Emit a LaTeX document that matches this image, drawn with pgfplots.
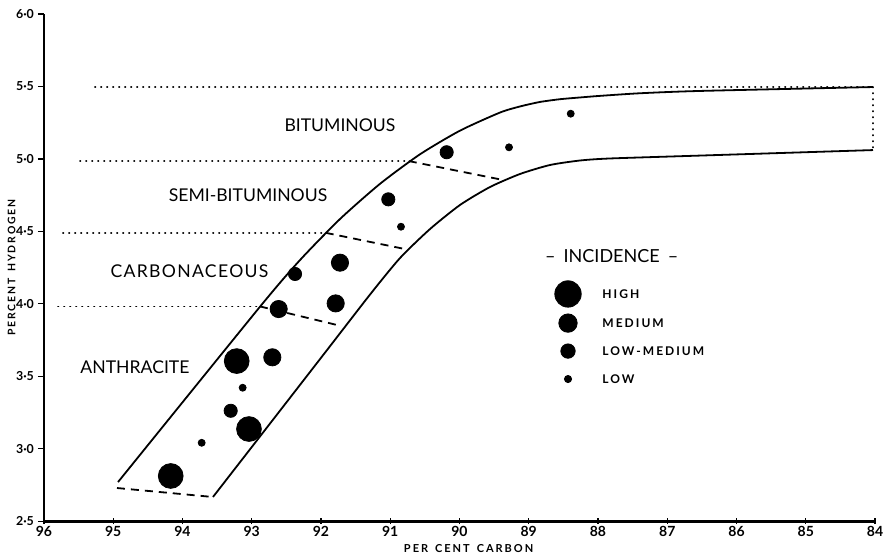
\documentclass[border=0pt]{standalone}
\usepackage{fontspec}
\setmainfont{Lato}
\usepackage{pgfplots}
\pgfplotsset{compat=1.18}
\begin{document}
\begin{tikzpicture}
\begin{axis}[
  scale only axis, width=415.5pt, height=253.6pt,
  x dir=reverse, xmin=84, xmax=96, ymin=2.5, ymax=6.0,
  axis x line*=bottom, axis y line*=left,
  axis line style={line width=1.3pt,-},
  xtick={84,85,...,96}, ytick={2.5,3.0,3.5,4.0,4.5,5.0,5.5,6.0},
  xticklabels={84,85,86,87,88,89,90,91,92,93,94,95,96},
  yticklabels={2·5,3·0,3·5,4·0,4·5,5·0,5·5,6·0},
  /pgf/number format/assume math mode=true,
  tick style={black, line width=0.6pt},
  major tick length=3pt,
  xtick align=center, ytick align=outside,
  xticklabel style={font=\fontsize{7}{8}\selectfont\bfseries, yshift=2.5pt},
  yticklabel style={font=\fontsize{6.2}{7}\selectfont\bfseries, xshift=1.5pt},
  xlabel={PER\hspace{3.5pt}CENT\hspace{3.5pt}CARBON},
  xlabel style={font=\fontsize{5.5}{6}\selectfont\bfseries\addfontfeatures{LetterSpace=18}, at={(axis description cs:0.511,0)}, anchor=center, yshift=-13.6pt},
  clip=false,
]
% band boundaries
\addplot[black, line width=0.9pt, smooth, tension=0.4] coordinates {
 (94.931,2.770) (92.881,3.980) (92.303,4.302) (91.726,4.585) (91.148,4.828)
 (90.570,5.032) (89.993,5.195) (89.415,5.320) (89.126,5.362) (88.838,5.393)
 (88.549,5.412) (88.260,5.424) (87.971,5.435) (87.394,5.453) (86.527,5.469) (84.029,5.496)};
\addplot[black, line width=0.9pt, smooth, tension=0.4] coordinates {
 (93.560,2.667) (92.736,3.174) (91.913,3.681) (91.292,4.064) (90.859,4.316)
 (90.426,4.516) (89.993,4.682) (89.560,4.806) (89.126,4.896) (88.693,4.958)
 (88.260,4.989) (87.827,5.003) (86.527,5.023) (84.029,5.061)};
% dotted class lines
\addplot[black, line width=0.9pt, line cap=round, dash pattern=on 0.2pt off 2.8pt] coordinates {(95.264,5.496) (84.029,5.496)};
\addplot[black, line width=0.9pt, line cap=round, dash pattern=on 0.2pt off 2.8pt] coordinates {(84.029,5.496) (84.029,5.061)};
\addplot[black, line width=0.9pt, line cap=round, dash pattern=on 0.2pt off 2.8pt] coordinates {(95.480,4.985) (90.732,4.985)};
\addplot[black, line width=0.9pt, line cap=round, dash pattern=on 0.2pt off 2.8pt] coordinates {(95.726,4.49) (91.932,4.49)};
\addplot[black, line width=0.9pt, line cap=round, dash pattern=on 0.2pt off 2.8pt] coordinates {(95.798,3.982) (92.881,3.982)};
% dashed class boundaries within band
\addplot[black, line width=0.9pt, dash pattern=on 4pt off 3pt] coordinates {(90.732,4.985) (89.415,4.859)};
\addplot[black, line width=0.9pt, dash pattern=on 4pt off 3pt] coordinates {(91.932,4.49) (90.787,4.378)};
\addplot[black, line width=0.9pt, dash pattern=on 4pt off 3pt] coordinates {(92.881,3.982) (91.769,3.854)};
\addplot[black, line width=0.9pt, dash pattern=on 4pt off 3pt] coordinates {(94.946,2.729) (93.560,2.667)};
% incidence points
\addplot[only marks, mark=*, mark size=6.2pt, black] coordinates {(94.170,2.812) (93.040,3.136) (93.217,3.605)};
\addplot[only marks, mark=*, mark size=4.3pt, black] coordinates {(92.703,3.631) (92.611,3.964) (91.788,4.003) (91.726,4.284)};
\addplot[only marks, mark=*, mark size=3.3pt, black] coordinates {(93.304,3.262) (92.375,4.206) (91.028,4.721) (90.185,5.046)};
\addplot[only marks, mark=*, mark size=1.75pt, black] coordinates {(93.723,3.041) (93.131,3.421) (90.845,4.532) (89.285,5.080) (88.394,5.312)};
% legend markers
\addplot[only marks, mark=*, mark size=6.6pt, black] coordinates {(88.433,4.068)};
\addplot[only marks, mark=*, mark size=4.6pt, black] coordinates {(88.433,3.867)};
\addplot[only marks, mark=*, mark size=3.6pt, black] coordinates {(88.433,3.674)};
\addplot[only marks, mark=*, mark size=1.8pt, black] coordinates {(88.433,3.481)};
% y axis label
\node[rotate=90, anchor=center, font=\fontsize{5.2}{6}\selectfont\bfseries\addfontfeatures{LetterSpace=18}] at ([xshift=-16.2pt]axis description cs:0,0.5) {PERCENT\hspace{3.5pt}HYDROGEN};
% region labels
\node[font=\fontsize{8.8}{10}\selectfont] at (axis cs:91.726,5.234) {BITUMINOUS};
\node[font=\fontsize{8.8}{10}\selectfont] at (axis cs:93.054,4.751) {SEMI-BITUMINOUS};
\node[font=\fontsize{8.8}{10}\selectfont\addfontfeatures{LetterSpace=7.5}] at (axis cs:93.899,4.228) {CARBONACEOUS};
\node[font=\fontsize{8.8}{10}\selectfont] at (axis cs:94.686,3.564) {ANTHRACITE};
\node[font=\fontsize{9}{10}\selectfont] at (axis cs:87.802,4.330) {–\hspace{4pt}INCIDENCE\hspace{4pt}–};
\node[font=\fontsize{6}{7}\selectfont\bfseries\addfontfeatures{LetterSpace=17}, anchor=west, inner sep=0pt] at (axis cs:87.942,4.068) {HIGH};
\node[font=\fontsize{6}{7}\selectfont\bfseries\addfontfeatures{LetterSpace=17}, anchor=west, inner sep=0pt] at (axis cs:87.942,3.867) {MEDIUM};
\node[font=\fontsize{6}{7}\selectfont\bfseries\addfontfeatures{LetterSpace=17}, anchor=west, inner sep=0pt] at (axis cs:87.942,3.674) {LOW-MEDIUM};
\node[font=\fontsize{6}{7}\selectfont\bfseries\addfontfeatures{LetterSpace=17}, anchor=west, inner sep=0pt] at (axis cs:87.942,3.481) {LOW};
\end{axis}
\pgfresetboundingbox
\useasboundingbox ([shift={(-22pt,-17.4pt)}]current axis.south west) rectangle ([shift={(6pt,7pt)}]current axis.north east);
\end{tikzpicture}
\end{document}
